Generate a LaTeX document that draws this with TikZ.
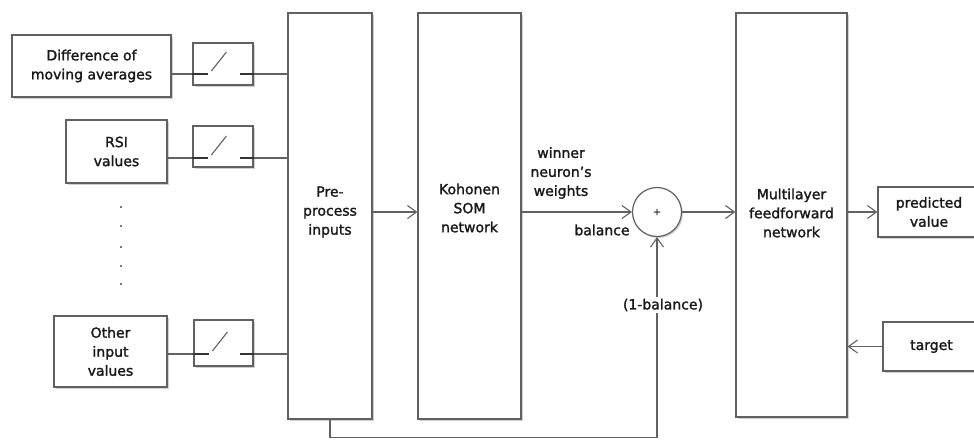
\documentclass[tikz,border=0pt]{standalone}
\usepackage{fontspec}
\setmainfont{DejaVu Sans}[FakeBold=1.6]
\usetikzlibrary{arrows.meta,shadows}
\begin{document}
\begin{tikzpicture}[x=1pt,y=-1pt,
  every node/.style={font=\fontsize{14}{19}\selectfont, text=black!90},
  box/.style={draw=black!62, fill=white, rectangle, line width=1.2pt, inner sep=0pt, align=center,
    drop shadow={shadow xshift=1.5pt,shadow yshift=-1.5pt,opacity=0.3,fill=black!60}},
  conn/.style={draw=black!62, line width=1.1pt},
  arr/.style={conn, -{Straight Barb[length=9pt,width=13pt,line width=1.1pt]}},
  stub/.style={draw=black!80, line width=2pt},
  lbl/.style={align=center, inner sep=0pt},
]
\fill[white] (0,0) rectangle (974,440);
\useasboundingbox (0,0) rectangle (974,440);

% input boxes
\node[box, minimum width=159pt, minimum height=62pt] (b1) at (91.5,66) {Difference of\\moving averages};
\node[box, minimum width=101pt, minimum height=63pt] (b2) at (116.5,151.5) {RSI\\values};
\node[box, minimum width=113pt, minimum height=71pt] (b3) at (110.5,351.5) {Other\\input\\values};

% dots
\foreach \yy in {207,226,247,266,284} \fill[black!70] (121,\yy) circle (1.1pt);

% switches
\node[box, minimum width=60pt, minimum height=42pt] (sw1) at (223,64) {};
\node[box, minimum width=60pt, minimum height=41pt] (sw2) at (223,146.5) {};
\node[box, minimum width=59pt, minimum height=46pt] (sw3) at (223.5,343) {};

% big boxes
\node[box, minimum width=84pt, minimum height=406pt] (pre) at (330,216) {};
\node[lbl] (pret) at (330,212) {Pre-\\process\\inputs};
\node[box, minimum width=103pt, minimum height=406pt] (koh) at (469.5,216) {};
\node[lbl] (koht) at (469.5,208) {Kohonen\\SOM\\network};
\node[box, minimum width=111pt, minimum height=404pt] (mlp) at (791.5,215) {};
\node[lbl] (mlpt) at (791.5,213) {Multilayer\\feedforward\\network};

% sum circle
\node[box, circle, minimum size=49pt] (circ) at (657,212) {};
\node[lbl, font=\fontsize{10}{10}\selectfont] (plus) at (657,212) {+};

% outputs
\node[box, minimum width=102pt, minimum height=50pt] (pred) at (929,212) {predicted\\value};
\node[box, minimum width=97pt, minimum height=49pt] (tgt) at (931.5,346.5) {target};

% switch internals and wiring
\foreach \s/\L in {sw1/74, sw2/158, sw3/354}{
  \coordinate (\s l) at (\s.west |- 0,\L);
  \coordinate (\s r) at (\s.east |- 0,\L);
  \draw[stub] (\s l) -- ++(16,0);
  \draw[stub] (\s r) -- ++(-14,0);
  \draw[conn] ([xshift=19pt,yshift=3pt]\s l) -- ++(15,-19);
}
\draw[conn] (b1.east |- sw1l) -- (sw1l);
\draw[conn] (sw1r) -- (pre.west |- sw1r);
\draw[conn] (b2.east |- sw2l) -- (sw2l);
\draw[conn] (sw2r) -- (pre.west |- sw2r);
\draw[conn] (b3.east |- sw3l) -- (sw3l);
\draw[conn] (sw3r) -- (pre.west |- sw3r);

% main flow
\draw[arr] (pre.east |- circ) -- (koh.west |- circ);
\draw[arr] (koh.east |- circ) -- (circ.west);
\draw[arr] (circ.east) -- (mlp.west |- circ);
\draw[arr] (mlp.east |- pred) -- (pred.west);
\draw[arr] (tgt.west) -- (mlp.east |- tgt);
\draw[arr] (pre.south) -- ++(0,18) -| (circ.south);

% labels
\node[lbl] (wlab) at (561,173) {winner\\neuron's\\weights};
\node[lbl] (blab) at (602,230) {balance};
\node[lbl, fill=white, inner sep=2pt] (ilab) at (663,305) {(1-balance)};
\end{tikzpicture}
\end{document}
